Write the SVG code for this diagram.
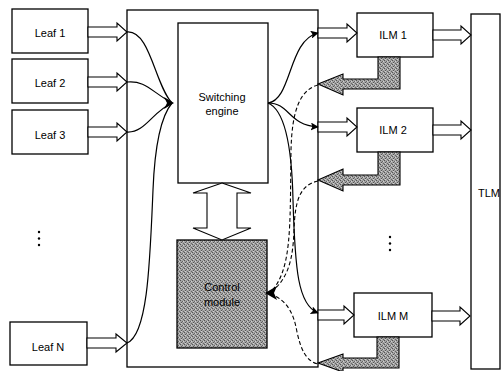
<svg xmlns="http://www.w3.org/2000/svg" width="502" height="371" viewBox="0 0 502 371">
<style>
.box{fill:#fff;stroke:#000;stroke-width:1.3}
.harrow{fill:#fff;stroke:#000;stroke-width:1.1;stroke-linejoin:miter}
.garrow{fill:url(#dither);stroke:#000;stroke-width:1.1}
.lbl{font-family:"Liberation Sans",Arial,sans-serif;font-size:11px;fill:#000;text-anchor:middle}
.curve{fill:none;stroke:#000;stroke-width:1.2}
.dash{fill:none;stroke:#000;stroke-width:1.1;stroke-dasharray:4 2.5}
</style>
<defs>
<pattern id="dither" width="4" height="4" patternUnits="userSpaceOnUse">
<rect width="4" height="4" fill="#a4a4a4"/>
<rect x="0" y="0" width="1" height="1" fill="#555"/>
<rect x="2" y="1" width="1" height="1" fill="#666"/>
<rect x="1" y="2" width="1" height="1" fill="#555"/>
<rect x="3" y="3" width="1" height="1" fill="#666"/>
<rect x="3" y="1" width="1" height="1" fill="#d0d0d0"/>
<rect x="1" y="3" width="1" height="1" fill="#d0d0d0"/>
</pattern>
<marker id="ah" viewBox="0 0 10 10" refX="9" refY="5" markerWidth="8" markerHeight="8" markerUnits="userSpaceOnUse" orient="auto">
<path d="M0,0 L10,5 L0,10 L2,5 Z" fill="#000"/>
</marker>
</defs>

<g id="main-block"><rect class="box" x="127" y="10" width="191" height="357"/></g>

<g id="leaf1"><rect class="box" x="12" y="9" width="76" height="44"/><text class="lbl" x="50" y="37">Leaf 1</text></g>
<g id="leaf2"><rect class="box" x="12" y="59" width="76" height="44"/><text class="lbl" x="50" y="87">Leaf 2</text></g>
<g id="leaf3"><rect class="box" x="12" y="110" width="76" height="44"/><text class="lbl" x="50" y="139">Leaf 3</text></g>
<g id="leafN"><rect class="box" x="10" y="322" width="77" height="43"/><text class="lbl" x="48" y="351">Leaf N</text></g>
<g id="dots-left"><circle cx="39" cy="232" r="1.2"/><circle cx="39" cy="238.5" r="1.2"/><circle cx="39" cy="245" r="1.2"/></g>

<g id="switching-engine"><rect class="box" x="178" y="23" width="90" height="160"/><text class="lbl" x="222" y="101">Switching</text><text class="lbl" x="222" y="115">engine</text></g>
<g id="control-module"><rect x="177" y="240" width="90" height="108" fill="url(#dither)" stroke="#000" stroke-width="1.3"/><text class="lbl" x="222" y="291" fill="#111">Control</text><text class="lbl" x="222" y="306" fill="#111">module</text></g>

<g id="ilm1"><rect class="box" x="357" y="13" width="76" height="44"/><text class="lbl" x="393" y="39">ILM 1</text></g>
<g id="ilm2"><rect class="box" x="357" y="108" width="76" height="44"/><text class="lbl" x="393" y="134">ILM 2</text></g>
<g id="ilmM"><rect class="box" x="354" y="293" width="78" height="44"/><text class="lbl" x="393" y="320">ILM M</text></g>
<g id="dots-right"><circle cx="390" cy="237" r="1.2"/><circle cx="390" cy="243.5" r="1.2"/><circle cx="390" cy="250" r="1.2"/></g>

<g id="tlm"><rect class="box" x="471" y="14" width="29" height="355"/><text class="lbl" x="489" y="197">TLM</text></g>

<g id="connectors">
<polygon class="harrow" points="88,27 117,27 117,23 127,32 117,41 117,37 88,37"/>
<polygon class="harrow" points="88,77 117,77 117,73 127,82 117,91 117,87 88,87"/>
<polygon class="harrow" points="88,127 117,127 117,123 127,132 117,141 117,137 88,137"/>
<polygon class="harrow" points="87,338 116,338 116,334 127,343 116,352 116,348 87,348"/>
<polygon class="harrow" points="318,28 347,28 347,24 357,33 347,42 347,38 318,38"/>
<polygon class="harrow" points="318,122 347,122 347,118 357,127 347,136 347,132 318,132"/>
<polygon class="harrow" points="318,310 344,310 344,306 354,315 344,324 344,320 318,320"/>
<polygon class="harrow" points="433,30 461,30 461,26 471,35 461,44 461,40 433,40"/>
<polygon class="harrow" points="433,125 461,125 461,121 471,130 461,139 461,135 433,135"/>
<polygon class="harrow" points="432,311 460,311 460,307 470,316 460,325 460,321 432,321"/>
<polygon class="harrow" points="222,183 251,193 237,193 237,228 251,228 222,240 193,228 207,228 207,193 193,193"/>
<polygon class="garrow" points="378,57 400,57 400,89 343,89 343,95 318,84 343,74 343,79 378,79"/>
<polygon class="garrow" points="378,152 400,152 400,185 343,185 343,191 318,180 343,169 343,175 378,175"/>
<polygon class="garrow" points="377,337 399,337 399,368 343,368 343,372 318,363 343,354 343,358 377,358"/>
<path class="curve" d="M127,32 C150,30 155,85 172,103"/>
<path class="curve" d="M127,82 C145,80 152,92 172,103"/>
<path class="curve" d="M127,132 C145,133 152,112 172,103"/>
<path class="curve" d="M127,343 C148,335 150,260 153,190 C155,140 162,115 172,103"/>
<polygon points="164,97 174,103 164,109 167,103" fill="#000"/>
<path class="curve" d="M268,103 C292,100 288,40 318,33" marker-end="url(#ah)"/>
<path class="curve" d="M268,103 C290,103 288,125 318,127" marker-end="url(#ah)"/>
<path class="curve" d="M268,103 C285,110 292,150 293,200 C295,270 298,305 318,313" marker-end="url(#ah)"/>
<path class="dash" d="M318,85 C300,90 292,110 291,150 C290,230 292,270 270,293"/>
<path class="dash" d="M318,181 C300,185 295,200 294,230 C293,262 287,280 270,293"/>
<path class="dash" d="M270,294 C288,300 294,315 297,332 C301,350 306,361 318,364"/>
<polygon points="265,293 277,286 274,293 277,300" fill="#000"/>
</g>
</svg>
